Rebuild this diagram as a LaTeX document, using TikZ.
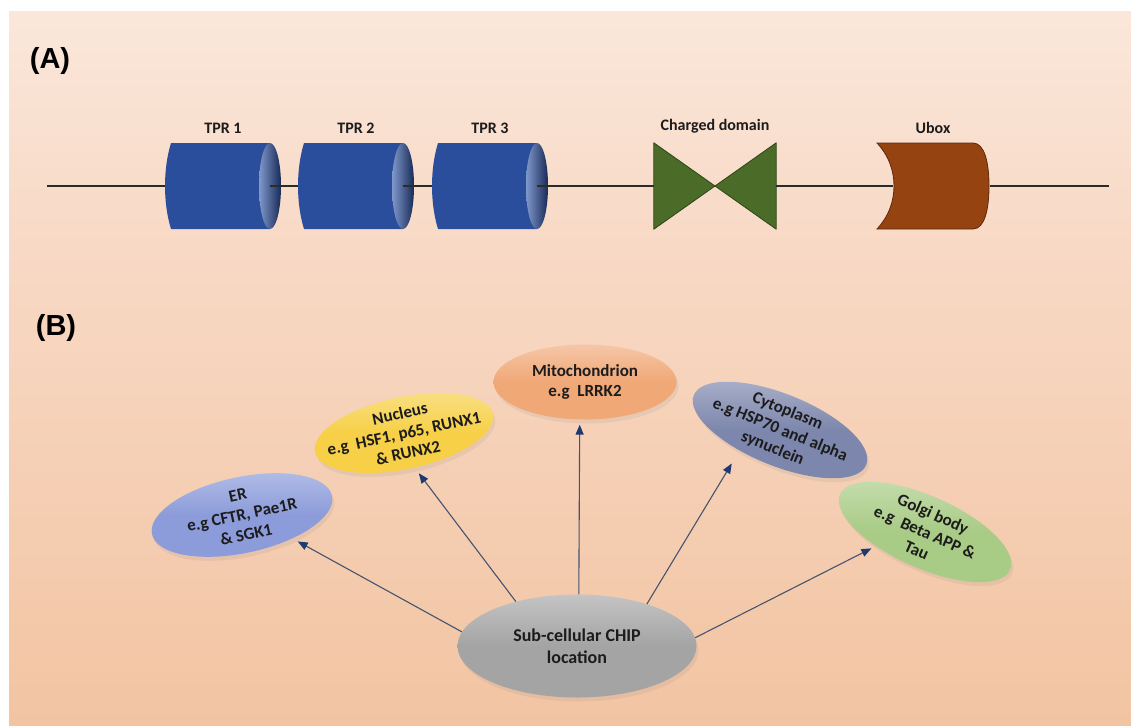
\documentclass[tikz,border=0pt]{standalone}
\usepackage{fontspec}
\setmainfont{Carlito}
\newfontfamily\tagfont{Liberation Sans}
\usetikzlibrary{arrows.meta,positioning,calc,shapes.geometric,shadows}
\definecolor{cInk}{HTML}{1C1C1C}
\definecolor{cBone}{HTML}{2B2B2B}
\definecolor{cTpr}{HTML}{2A4D9C}
\definecolor{cTprEnd}{HTML}{8098CC}
\definecolor{cChg}{HTML}{4B6B28}
\definecolor{cChgDk}{HTML}{2E4515}
\definecolor{cUb}{HTML}{954411}
\definecolor{cUbDk}{HTML}{5E2A08}
\definecolor{cEr}{HTML}{8C9CDA}
\definecolor{cNuc}{HTML}{F7D048}
\definecolor{cMit}{HTML}{F0A877}
\definecolor{cCyt}{HTML}{7D87AD}
\definecolor{cGol}{HTML}{A8CB85}
\definecolor{cChip}{HTML}{A4A4A4}
\definecolor{cArr}{HTML}{45546E}
\definecolor{cTip}{HTML}{1F3A6E}
\definecolor{cBgA}{HTML}{FEF6F2}
\definecolor{cBgAB}{HTML}{FCEDE3}
\definecolor{cBgB}{HTML}{F8DAC7}
\definecolor{cBgC}{HTML}{F2C4A2}
\definecolor{cBgD}{HTML}{F1C19E}
\definecolor{cBgE}{HTML}{F5D1B6}
\pgfdeclareverticalshading{bgfade}{100bp}{color(0bp)=(cBgE); color(12bp)=(cBgD);
  color(25bp)=(cBgC); color(60bp)=(cBgB); color(82bp)=(cBgAB); color(100bp)=(cBgA)}
\tikzset{
  >=Stealth,
  ghost/.style={inner sep=0pt,minimum height=86pt},
  dom/.style ={font=\fontsize{16}{19}\selectfont\bfseries,text=cInk},
  tag/.style ={font=\tagfont\fontsize{29}{32}\selectfont\bfseries,text=black},
  bone/.style={cBone,line width=1.2pt},
  loc/.style ={ellipse,inner sep=-30pt,align=center,text=cInk,
               font=\fontsize{17}{20}\selectfont\bfseries,
               drop shadow={shadow xshift=2pt,shadow yshift=-4pt,opacity=0.12}},
  gloss/.style={top color=#1!65!white,bottom color=#1,middle color=#1},
  ar/.style  ={-{Triangle[width=8pt,length=10pt,color=cTip]},cArr,line width=1.1pt},
}
% one TPR barrel drawn over a ghost node
\newcommand{\tprcyl}[1]{%
  \begin{scope}[shift={(#1.center)}]
    \fill[cTpr] (-52,-43) -- (47,-43) -- (47,43) -- (-52,43)
      .. controls (-56,30) and (-58,15) .. (-58,0)
      .. controls (-58,-15) and (-56,-30) .. (-52,-43) -- cycle;
    \shade[left color=cTprEnd,middle color=cTprEnd,right color=cTpr!55!black]
      (47,0) ellipse [x radius=11pt,y radius=43pt];
  \end{scope}}

\begin{document}
\begin{tikzpicture}[x=1pt,y=-1pt]
\useasboundingbox (0,0) rectangle (1131,725);
\fill[white] (0,0) rectangle (1131,725);
\shade[shading=bgfade] (9,12) rectangle (1131,725);

% (A) domain map
\node[tag] (ta) at (50,61) {(A)};
\coordinate (lstart) at (47,186);
\coordinate (lend) at (1109,186);
\node[ghost,minimum width=116pt] (tpr1) at (223,186) {};
\node[ghost,minimum width=116pt] (tpr2) at (356,186) {};
\node[ghost,minimum width=116pt] (tpr3) at (490,186) {};
\node[ghost,minimum width=122pt] (chg) at (715,186) {};
\node[ghost,minimum width=113pt] (ubx) at (933,186) {};
\node[dom,above=6pt of tpr1] (l1) {TPR 1};
\node[dom,above=6pt of tpr2] (l2) {TPR 2};
\node[dom,above=6pt of tpr3] (l3) {TPR 3};
\node[dom,above=6pt of chg] (lc) {Charged domain};
\node[dom,above=6pt of ubx] (lu) {Ubox};
\tprcyl{tpr1}
\tprcyl{tpr2}
\tprcyl{tpr3}
\fill[cChg,draw=cChgDk,line width=0.8pt,line join=round]
  (chg.north west) -- (chg.center) -- (chg.south west) -- cycle;
\fill[cChg,draw=cChgDk,line width=0.8pt,line join=round]
  (chg.north east) -- (chg.center) -- (chg.south east) -- cycle;
\begin{scope}[shift={(ubx.center)}]
  \fill[cUb,draw=cUbDk,line width=0.8pt]
    (-56,-43) -- (40,-43) .. controls (52,-43) and (56,-22) .. (56,0)
    .. controls (56,22) and (52,43) .. (40,43) -- (-56,43)
    .. controls (-44,30) and (-39,15) .. (-39,0)
    .. controls (-39,-15) and (-44,-30) .. (-56,-43) -- cycle;
\end{scope}
\draw[bone] (lstart) -- (tpr1.west);
\draw[bone] ([xshift=-11pt]tpr1.east) -- (tpr2.west);
\draw[bone] ([xshift=-11pt]tpr2.east) -- (tpr3.west);
\draw[bone] ([xshift=-11pt]tpr3.east) -- (chg.west);
\draw[bone] (chg.east) -- ([xshift=17pt]ubx.west);
\draw[bone] (ubx.east) -- (lend);

% (B) where CHIP sits in the cell
\node[tag] (tb) at (56,328) {(B)};
\node[loc,gloss=cEr,minimum width=184pt,minimum height=76pt,rotate=12] (er) at (242,515)
  {ER\\e.g CFTR, Pae1R\\\& SGK1};
\node[loc,gloss=cNuc,minimum width=182pt,minimum height=72pt,rotate=12] (nuc) at (404,433)
  {Nucleus\\e.g\ \ HSF1, p65, RUNX1\\\& RUNX2};
\node[loc,gloss=cMit,minimum width=183pt,minimum height=75pt] (mit) at (585,382)
  {Mitochondrion\\e.g\ \ LRRK2};
\node[loc,gloss=cCyt,minimum width=186pt,minimum height=72pt,rotate=-22] (cyt) at (780,430)
  {Cytoplasm\\e.g HSP70 and alpha\\synuclein};
\node[loc,gloss=cGol,minimum width=186pt,minimum height=72pt,rotate=-24] (gol) at (925,532)
  {Golgi body\\e.g\ \ Beta APP \&\\Tau};
\node[loc,gloss=cChip,minimum width=239pt,minimum height=103pt,
      font=\fontsize{18}{22}\selectfont\bfseries] (chip) at (577,646)
  {Sub-cellular CHIP\\location};
\draw[ar,shorten >=6pt] (chip.173) -- (er.-37);
\draw[ar,shorten >=7pt] (chip.144) -- (nuc.-85);
\draw[ar,shorten >=5pt] (chip.88) -- (mit.-98);
\draw[ar,shorten >=15pt] (chip.31) -- (cyt.-131);
\draw[ar,shorten >=5pt] (chip.4) -- (gol.-140);
\end{tikzpicture}
\end{document}
